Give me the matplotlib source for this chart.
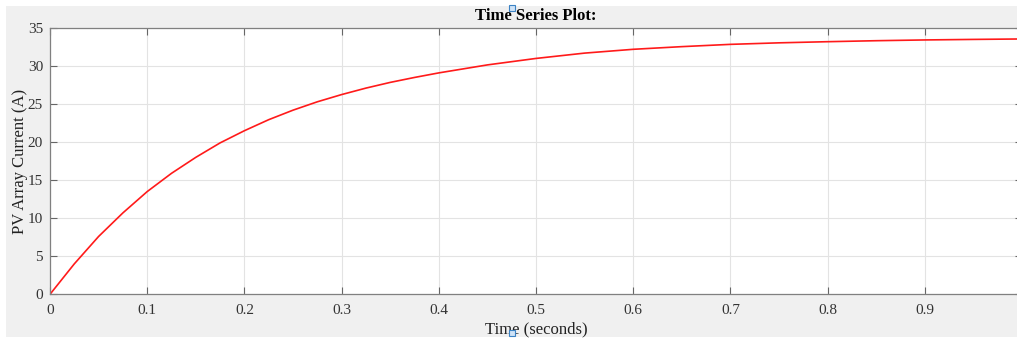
import matplotlib
matplotlib.use("Agg")
import matplotlib.pyplot as plt
from matplotlib.patches import Rectangle

# values
time_s = [0, 0.025, 0.05, 0.075, 0.1, 0.125, 0.15, 0.175, 0.2, 0.225, 0.25,
          0.275, 0.3, 0.325, 0.35, 0.375, 0.4, 0.45, 0.5, 0.55, 0.6, 0.65,
          0.7, 0.75, 0.8, 0.85, 0.9, 0.95, 1.0]
current_a = [0, 4.0, 7.6, 10.7, 13.5, 15.9, 18.0, 19.9, 21.5, 22.95, 24.2,
             25.3, 26.25, 27.1, 27.85, 28.5, 29.1, 30.15, 31.0, 31.7, 32.2,
             32.55, 32.85, 33.05, 33.2, 33.33, 33.43, 33.5, 33.56]
x_ticks = [0, 0.1, 0.2, 0.3, 0.4, 0.5, 0.6, 0.7, 0.8, 0.9]
y_ticks = [0, 5, 10, 15, 20, 25, 30, 35]

plt.rcParams["font.family"] = ["Liberation Serif", "DejaVu Serif"]

W, H = 1017, 341
fig = plt.figure(figsize=(W / 100, H / 100), dpi=100, facecolor="white")
fig.patches.append(Rectangle((6 / W, 4 / H), 1, (337 - 6) / H,
                             transform=fig.transFigure, facecolor="#f0f0f0",
                             edgecolor="none", zorder=-10))

ax = fig.add_axes([50 / W, (H - 294.3) / H, 972 / W, 266.3 / H])
ax.plot(time_s, current_a, color="#ff1a1a", linewidth=1.2,
        solid_joinstyle="round")

ax.set_xlim(0, 1)
ax.set_ylim(0, 35)
ax.set_xticks(x_ticks)
ax.set_xticklabels([f"{t:g}" for t in x_ticks])
ax.set_yticks(y_ticks)
ax.grid(True, color="#e3e3e3", linewidth=0.8)
ax.set_axisbelow(True)
ax.tick_params(direction="in", top=True, right=True, length=5, width=0.8,
               color="#666666", labelcolor="#333333", labelsize=11, pad=5)
ax.tick_params(axis="x", pad=7)
for side in ["left", "bottom", "top", "right"]:
    ax.spines[side].set_color("#808080")
    ax.spines[side].set_linewidth(0.9)

ax.set_title("Time Series Plot:", fontsize=12, fontweight="bold", pad=6)
ax.set_xlabel("Time (seconds)", fontsize=12, color="#222222", labelpad=3)
ax.set_ylabel("PV Array Current (A)", fontsize=12, color="#222222", labelpad=0)

# small blue selection handles
for px, py in [(512, 8), (512, 333)]:
    fig.patches.append(Rectangle(((px - 3) / W, (H - py - 3) / H), 6 / W, 6 / H,
                                 transform=fig.transFigure, facecolor="#cfe3f7",
                                 edgecolor="#3b82c4", linewidth=0.8, zorder=10))

fig.savefig("out.png", dpi=100, facecolor=fig.get_facecolor())
